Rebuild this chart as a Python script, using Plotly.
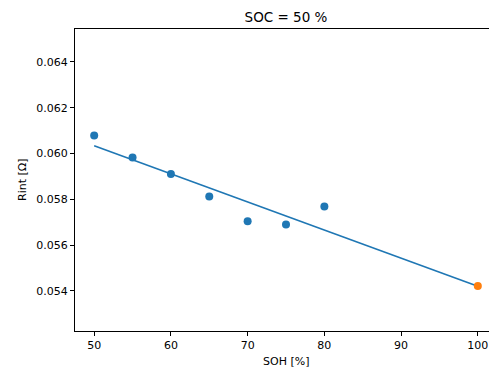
import numpy as np
import plotly.graph_objects as go

soh_measured = [50, 55, 60, 65, 70, 75, 80]
rint_measured = [0.06079, 0.05983, 0.05911, 0.05812, 0.05704, 0.05690, 0.05769]
soh_new = [100]
rint_new = [0.05422]

x_ticks = [50, 60, 70, 80, 90, 100]
y_ticks = [0.054, 0.056, 0.058, 0.060, 0.062, 0.064]

all_x = np.array(soh_measured + soh_new, dtype=float)
all_y = np.array(rint_measured + rint_new, dtype=float)
slope, intercept = np.polyfit(all_x, all_y, 1)
fit_x = np.array([all_x.min(), all_x.max()])
fit_y = slope * fit_x + intercept

font = "DejaVu Sans"
# page body has an 8px default margin; figure sized to end at the window edge
OFF = 8
W, H = 497 - OFF, 371 - OFF
L, R, T, B = 75 - OFF, 0, 29 - OFF, 40

fig = go.Figure()
fig.add_trace(go.Scatter(x=soh_measured, y=rint_measured, mode="markers",
                         marker=dict(color="#1f77b4", size=8, line=dict(width=0)),
                         showlegend=False, cliponaxis=False))
fig.add_trace(go.Scatter(x=fit_x, y=fit_y, mode="lines",
                         line=dict(color="#1f77b4", width=1.6), showlegend=False))
fig.add_trace(go.Scatter(x=soh_new, y=rint_new, mode="markers",
                         marker=dict(color="#ff7f0e", size=8, line=dict(width=0)),
                         showlegend=False, cliponaxis=False))

pw, ph = W - L - R, H - T - B
fig.update_layout(
    width=W, height=H,
    margin=dict(l=L, r=R, t=T, b=B, autoexpand=False),
    paper_bgcolor="white", plot_bgcolor="white",
    font=dict(family=font, size=11, color="black"),
    title=dict(text="SOC = 50 %", x=(L + W - R) / 2 / W, xanchor="center",
               y=1 - (17 - OFF) / H, yanchor="middle", font=dict(size=13.5, family=font)),
    xaxis=dict(range=[47.5, 102.5], tickvals=x_ticks, ticks="outside", ticklen=4,
               tickcolor="black", showline=True, linecolor="black", linewidth=1,
               mirror=True, showgrid=False, zeroline=False, automargin=False),
    yaxis=dict(range=[0.05225, 0.06544], tickvals=y_ticks, tickformat=".3f",
               ticks="outside", ticklen=4, tickcolor="black", showline=True,
               linecolor="black", linewidth=1, showgrid=False, zeroline=False,
               automargin=False),
    annotations=[
        dict(text="SOH [%]", xref="paper", yref="paper", x=0.5,
             y=-(361 - 331) / ph, xanchor="center", yanchor="middle",
             showarrow=False, font=dict(size=11, family=font)),
        dict(text="Rint [Ω]", xref="paper", yref="paper",
             x=-(75 - 22) / pw, y=0.5, xanchor="center", yanchor="middle",
             textangle=-90, showarrow=False, font=dict(size=11, family=font)),
    ],
)

fig.write_html("out.html")
